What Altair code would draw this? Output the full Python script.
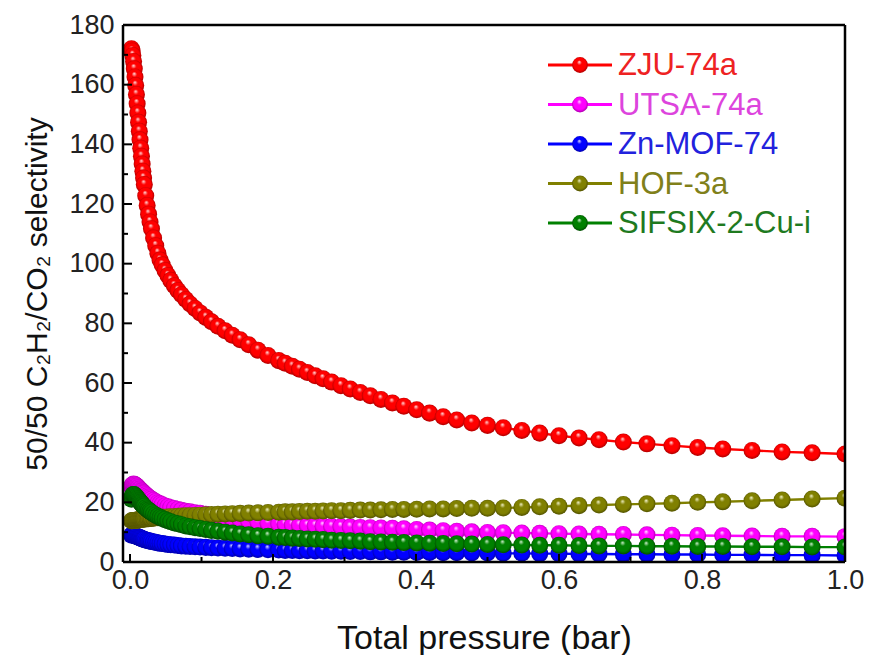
import altair as alt
import pandas as pd

# Total pressure grid (bar) shared by every IAST selectivity curve
pressure = [
    0.002, 0.003, 0.004, 0.005, 0.006, 0.007, 0.008, 0.009, 0.010, 0.011,
    0.012, 0.013, 0.014, 0.015, 0.016, 0.017, 0.018, 0.019, 0.020,
    0.022, 0.024, 0.026, 0.028, 0.030, 0.033, 0.036, 0.039,
    0.042, 0.045, 0.049, 0.053, 0.057, 0.062, 0.067, 0.072, 0.078, 0.084,
    0.091, 0.098, 0.106, 0.114, 0.123, 0.133, 0.143, 0.154, 0.166, 0.179,
    0.193, 0.208,
    0.217, 0.227, 0.237, 0.248, 0.259, 0.270, 0.282, 0.295, 0.308, 0.322,
    0.336, 0.351, 0.367, 0.383, 0.401, 0.419, 0.438, 0.457, 0.478, 0.500,
    0.522, 0.548, 0.573, 0.600, 0.628, 0.656, 0.690, 0.723, 0.758, 0.794,
    0.829, 0.870, 0.912, 0.954, 1.000,
]

zju_74a = [
    172.0, 171.3, 169.8, 167.8, 165.3, 162.6, 159.7, 156.7, 153.6, 150.5,
    147.4, 144.4, 141.5, 138.7, 136.0, 133.4, 131.0, 128.7, 126.5,
    122.8, 119.5, 116.6, 114.0, 111.7, 108.6, 106.0, 103.5,
    101.2, 99.6, 97.7, 96.0, 94.4, 92.6, 91.0, 89.6, 88.0, 86.5,
    85.0, 83.5, 82.0, 80.5, 79.0, 77.5, 76.0, 74.5, 72.8, 71.0,
    69.2, 67.5,
    66.6, 65.6, 64.6, 63.5, 62.4, 61.4, 60.3, 59.1, 58.0, 56.8,
    55.7, 54.5, 53.3, 52.2, 51.0, 49.9, 48.7, 47.6, 46.6, 45.8,
    45.0, 44.1, 43.2, 42.3, 41.6, 41.0, 40.2, 39.6, 39.0, 38.4,
    37.9, 37.4, 36.9, 36.6, 36.2,
]

utsa_74a = [
    25.2, 25.7, 26.0, 26.1, 26.0, 25.9, 25.7, 25.5, 25.3, 25.0,
    24.8, 24.5, 24.3, 24.0, 23.8, 23.6, 23.3, 23.1, 22.9,
    22.5, 22.1, 21.7, 21.4, 21.0, 20.6, 20.2, 19.8,
    19.5, 19.2, 18.8, 18.5, 18.2, 17.9, 17.6, 17.3, 17.0, 16.8,
    16.5, 16.3, 16.0, 15.7, 15.3, 14.9, 14.5, 14.1, 13.7, 13.3,
    13.0, 12.7,
    12.6, 12.4, 12.3, 12.2, 12.1, 12.0, 11.9, 11.8, 11.7, 11.6,
    11.5, 11.4, 11.3, 11.1, 10.9, 10.7, 10.5, 10.3, 10.1, 9.9,
    9.8, 9.7, 9.6, 9.5, 9.4, 9.3, 9.2, 9.1, 9.0, 8.9,
    8.8, 8.7, 8.6, 8.6, 8.5,
]

zn_mof_74 = [
    9.0, 9.1, 9.1, 9.0, 8.9, 8.8, 8.7, 8.6, 8.5, 8.4,
    8.3, 8.2, 8.1, 8.0, 7.9, 7.8, 7.7, 7.6, 7.5,
    7.4, 7.2, 7.1, 7.0, 6.9, 6.7, 6.6, 6.4,
    6.3, 6.2, 6.0, 5.9, 5.8, 5.7, 5.5, 5.4, 5.3, 5.2,
    5.1, 5.0, 4.9, 4.8, 4.7, 4.6, 4.5, 4.4, 4.3, 4.2,
    4.1, 4.0,
    3.9, 3.9, 3.8, 3.8, 3.7, 3.7, 3.6, 3.6, 3.5, 3.5,
    3.4, 3.4, 3.3, 3.3, 3.2, 3.2, 3.1, 3.1, 3.0, 3.0,
    2.9, 2.9, 2.8, 2.8, 2.7, 2.7, 2.6, 2.6, 2.5, 2.5,
    2.4, 2.4, 2.3, 2.3, 2.2,
]

hof_3a = [
    13.8, 13.8, 13.9, 13.9, 13.9, 14.0, 14.0, 14.0, 14.1, 14.1,
    14.1, 14.2, 14.2, 14.2, 14.3, 14.3, 14.3, 14.4, 14.4,
    14.4, 14.5, 14.5, 14.6, 14.6, 14.7, 14.8, 14.8,
    14.9, 15.0, 15.0, 15.1, 15.2, 15.2, 15.3, 15.4, 15.5, 15.5,
    15.6, 15.7, 15.8, 15.9, 16.0, 16.1, 16.2, 16.3, 16.4, 16.5,
    16.6, 16.7,
    16.8, 16.8, 16.9, 17.0, 17.0, 17.1, 17.2, 17.2, 17.3, 17.4,
    17.4, 17.5, 17.6, 17.6, 17.7, 17.8, 17.8, 17.9, 18.0, 18.0,
    18.1, 18.3, 18.5, 18.7, 18.9, 19.1, 19.3, 19.5, 19.7, 20.0,
    20.2, 20.5, 20.8, 21.1, 21.4,
]

sifsix_2_cu_i = [
    21.0, 22.0, 22.5, 22.6, 22.5, 22.3, 22.0, 21.7, 21.4, 21.1,
    20.8, 20.5, 20.2, 19.9, 19.6, 19.3, 19.1, 18.8, 18.6,
    18.1, 17.7, 17.3, 16.9, 16.6, 16.1, 15.7, 15.3,
    14.9, 14.6, 14.2, 13.8, 13.5, 13.1, 12.8, 12.5, 12.1, 11.8,
    11.5, 11.2, 10.9, 10.6, 10.3, 10.0, 9.7, 9.4, 9.1, 8.8,
    8.6, 8.3,
    8.2, 8.0, 7.9, 7.7, 7.6, 7.5, 7.3, 7.2, 7.1, 7.0,
    6.8, 6.7, 6.6, 6.5, 6.4, 6.3, 6.2, 6.1, 6.0, 5.9,
    5.8, 5.7, 5.6, 5.6, 5.5, 5.4, 5.4, 5.3, 5.3, 5.2,
    5.2, 5.1, 5.1, 5.0, 5.0,
]

names = ["ZJU-74a", "UTSA-74a", "Zn-MOF-74", "HOF-3a", "SIFSIX-2-Cu-i"]
series = [zju_74a, utsa_74a, zn_mof_74, hof_3a, sifsix_2_cu_i]
base_colors = ["#ff0000", "#ff00ff", "#0000ff", "#808000", "#008000"]
shine_colors = ["#ffe6e6", "#ffe6ff", "#e0e0ff", "#f6f6d0", "#d8f4d8"]
shade_colors = ["#940000", "#8e008e", "#00008e", "#424200", "#003800"]
text_colors = ["#ee2222", "#dd44dd", "#2222dd", "#80801a", "#1f7a1f"]

x_major = [0.0, 0.2, 0.4, 0.6, 0.8, 1.0]
x_minor = [0.1, 0.3, 0.5, 0.7, 0.9]
y_major = [0, 20, 40, 60, 80, 100, 120, 140, 160, 180]
y_minor = [10, 30, 50, 70, 90, 110, 130, 150, 170]

W, H = 722, 537
FONT = "Liberation Sans"

x_enc = alt.X(
    "p:Q",
    scale=alt.Scale(domain=[-0.0098, 1.0], nice=False, zero=False),
    axis=alt.Axis(
        values=x_major, format=".1f", title="Total pressure (bar)",
        ticks=False, domain=False, grid=False, labelFlush=False,
        labelOverlap=False, labelPadding=5, titlePadding=28,
        titleFontSize=34,
    ),
)
y_enc = alt.Y(
    "value:Q",
    scale=alt.Scale(domain=[0, 180], nice=False),
    axis=alt.Axis(
        values=y_major, format="d", title="50/50 C₂H₂/CO₂ selectivity",
        ticks=False, domain=False, grid=False, labelFlush=False,
        labelOverlap=False, labelPadding=9, titlePadding=16,
        titleFontSize=30,
    ),
)


def sphere(i):
    # radial shading that gives each symbol a glossy ball look
    return alt.RadialGradient(
        gradient="radial",
        x1=0.45, y1=0.3, r1=0.0,
        x2=0.5, y2=0.5, r2=0.55,
        stops=[
            alt.GradientStop(offset=0.0, color=shine_colors[i]),
            alt.GradientStop(offset=0.28, color=base_colors[i]),
            alt.GradientStop(offset=0.7, color=base_colors[i]),
            alt.GradientStop(offset=1.0, color=shade_colors[i]),
        ],
    )


layers = []
for i, vals in enumerate(series):
    df = pd.DataFrame({"p": pressure, "value": vals})
    line = alt.Chart(df).mark_line(
        color=base_colors[i], strokeWidth=2.4, clip=True
    ).encode(x=x_enc, y=y_enc)
    pts = alt.Chart(df).mark_point(
        filled=True, fill=sphere(i), size=290, opacity=1,
        strokeWidth=0, shape="circle", clip=True
    ).encode(x=x_enc, y=y_enc)
    layers += [line, pts]

# inward tick marks on the left and bottom axes
def y_ticks(vals, length):
    return alt.Chart(pd.DataFrame({"value": vals})).mark_rule(
        color="black", strokeWidth=2
    ).encode(y=y_enc, x=alt.value(0), x2=alt.value(length))


def x_ticks(vals, length):
    return alt.Chart(pd.DataFrame({"p": vals})).mark_rule(
        color="black", strokeWidth=2
    ).encode(x=x_enc, y=alt.value(H), y2=alt.value(H - length))


layers += [y_ticks(y_major, 9), y_ticks(y_minor, 5),
           x_ticks(x_major, 8), x_ticks(x_minor, 5)]

# legend: line + ball symbol + coloured label for each material
one = pd.DataFrame({"k": [0]})
for i, name in enumerate(names):
    yy = 40 + 39.5 * i
    layers.append(alt.Chart(one).mark_rule(
        color=base_colors[i], strokeWidth=3
    ).encode(x=alt.value(425), x2=alt.value(489), y=alt.value(yy)))
    layers.append(alt.Chart(one).mark_point(
        filled=True, fill=sphere(i), size=250, opacity=1,
        strokeWidth=0, shape="circle"
    ).encode(x=alt.value(457), y=alt.value(yy)))
    layers.append(alt.Chart(one).mark_text(
        text=name, align="left", baseline="middle", font=FONT,
        fontSize=31, color=text_colors[i]
    ).encode(x=alt.value(495), y=alt.value(yy + 1)))

# solid black box around the plot area
frame = [
    dict(x=alt.value(0), x2=alt.value(W), y=alt.value(0)),
    dict(x=alt.value(0), x2=alt.value(W), y=alt.value(H)),
    dict(x=alt.value(0), y=alt.value(0), y2=alt.value(H)),
    dict(x=alt.value(W), y=alt.value(0), y2=alt.value(H)),
]
for enc in frame:
    layers.append(alt.Chart(one).mark_rule(
        color="black", strokeWidth=2.5
    ).encode(**enc))

chart = alt.layer(*layers).properties(
    width=W, height=H,
    background="white",
    autosize=alt.AutoSizeParams(type="none"),
    padding={"left": 123, "top": 25, "right": 25, "bottom": 93},
).configure_view(
    stroke=None, fill="white"
).configure_axis(
    labelFont=FONT, labelFontSize=27, labelColor="#222222",
    titleFont=FONT, titleFontWeight="normal", titleColor="#111111",
)

chart.save("out.html", embed_options={"renderer": "svg", "actions": False})
